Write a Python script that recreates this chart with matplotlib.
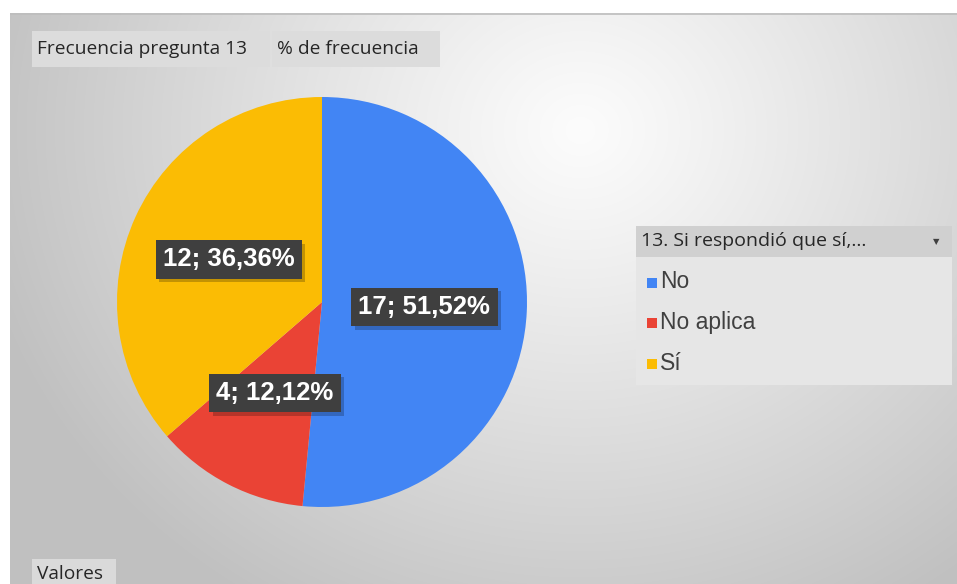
import numpy as np
import matplotlib
matplotlib.use("Agg")
import matplotlib.pyplot as plt
import matplotlib.patheffects as pe
from matplotlib.patches import Rectangle

# data
categories = ["No", "No aplica", "Sí"]
counts = [17, 4, 12]
percent_labels = ["51,52%", "12,12%", "36,36%"]
colors = ["#4285F4", "#EA4335", "#FBBC04"]

legend_title = "13. Si respondió que sí,..."
field_buttons = ["Frecuencia pregunta 13", "% de frecuencia"]
values_button = "Valores"

W, H = 957, 584
fig = plt.figure(figsize=(W / 100, H / 100), dpi=100)
fig.patch.set_facecolor("white")


def fx(x):
    return x / W


# background panel with radial gradient
bg = fig.add_axes([fx(10), 0, fx(W - 10), 1 - 13 / H])
bg.set_axis_off()
yy, xx = np.mgrid[13:H, 10:W]
d = np.sqrt(((xx - 580) / 1.0) ** 2 + ((yy - 130) / 0.9) ** 2)
v = 252 - 60 * np.clip(d / 620, 0, 1) ** 1.1
img = np.dstack([v, v, v]) / 255.0
bg.imshow(img, aspect="auto", extent=[10, W, H, 13])
bg.set_xlim(10, W)
bg.set_ylim(H, 13)
# thin gray top border
bg.plot([10, W], [13.5, 13.5], color="#bdbdbd", lw=1.2)

# pie
ax = fig.add_axes([fx(117), 1 - (302 + 205) / H, 410 / W, 410 / H])
wedges, _ = ax.pie(counts, colors=colors, startangle=90, counterclock=False,
                   radius=1, wedgeprops=dict(linewidth=0))
ax.set_xlim(-1, 1)
ax.set_ylim(-1, 1)
ax.set_aspect("equal")
ax.set_axis_off()

total = sum(counts)
start = 90.0
for c, p in zip(counts, percent_labels):
    sweep = 360.0 * c / total
    mid = np.deg2rad(start - sweep / 2)
    start -= sweep
    x, y = 0.5 * np.cos(mid), 0.5 * np.sin(mid)
    t = ax.text(x, y, f"{c}; {p}", ha="center", va="center",
                fontsize=18.5, fontweight="bold", family="Liberation Sans", color="white",
                bbox=dict(boxstyle="square,pad=0.28", fc="#3f3f3f", ec="none"))
    # soft drop shadow on the label box
    t.get_bbox_patch().set_path_effects(
        [pe.SimplePatchShadow(offset=(2.5, -2.5), shadow_rgbFace="black", alpha=0.22),
         pe.Normal()])

# overlay in pixel coordinates for buttons and legend
ov = fig.add_axes([0, 0, 1, 1], facecolor="none")
ov.set_xlim(0, W)
ov.set_ylim(H, 0)
ov.set_axis_off()

ov.add_patch(Rectangle((32, 31), 238, 36, fc="#dcdcdc", ec="none"))
ov.add_patch(Rectangle((272, 31), 168, 36, fc="#dcdcdc", ec="none"))
ov.text(37, 49, field_buttons[0], ha="left", va="center", fontsize=13.8,
        family="Open Sans", color="#262626")
ov.text(277, 49, field_buttons[1], ha="left", va="center", fontsize=13.8,
        family="Open Sans", color="#262626")

ov.add_patch(Rectangle((32, 559), 84, 25, fc="#dadada", ec="none"))
ov.text(37, 574, values_button, ha="left", va="center", fontsize=13.8,
        family="Open Sans", color="#262626")

# legend
ov.add_patch(Rectangle((636, 226), 316, 31, fc="#d0d0d0", ec="none"))
ov.add_patch(Rectangle((636, 257), 316, 128, fc="#e6e6e6", ec="none"))
ov.text(641, 241, legend_title, ha="left", va="center", fontsize=14,
        family="Open Sans", color="#262626")
ov.text(936, 242, "▼", ha="center", va="center", fontsize=6, color="#404040")

for i, (cat, col) in enumerate(zip(categories, colors)):
    ycen = 282 + i * 40.5
    ov.add_patch(Rectangle((647, ycen - 4.5), 10, 10, fc=col, ec="none"))
    ov.text(660, ycen, cat, ha="left", va="center", fontsize=16.5,
            family="Liberation Sans", color="#404040")

fig.savefig("out.png", dpi=100)
